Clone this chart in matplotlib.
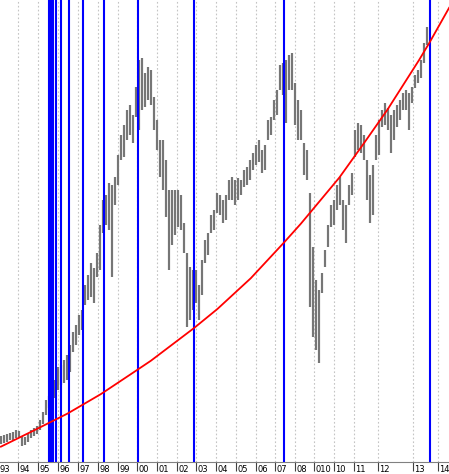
import matplotlib
matplotlib.use('Agg')
import matplotlib.pyplot as plt
import numpy as np

# bar highs / lows (index level) left to right, 1993 -> mid 2013
bar_high = [447, 450, 453, 456, 459, 465, 462, 447, 444, 453, 465, 471, 477, 494, 518, 553, 565, 576, 611, 650,
            655, 670, 685, 714, 752, 773, 802, 817, 890, 919, 955, 940, 984, 1066, 1139, 1154, 1189, 1183, 1207, 1271,
            1330, 1359, 1403, 1418, 1389, 1471, 1550, 1556, 1512, 1530, 1521, 1441, 1374, 1315, 1315, 1257, 1169, 1169, 1169, 1169,
            1154, 1072, 984, 943, 934, 934, 890, 963, 1022, 1043, 1095, 1110, 1160, 1154, 1139, 1154, 1198, 1207, 1198, 1204,
            1198, 1227, 1236, 1257, 1277, 1301, 1315, 1286, 1301, 1374, 1383, 1433, 1462, 1535, 1541, 1550, 1565, 1571, 1483, 1433,
            1403, 1307, 1286, 1160, 1002, 905, 875, 925, 993, 1066, 1125, 1139, 1183, 1207, 1139, 1125, 1183, 1218, 1345, 1365,
            1359, 1330, 1257, 1213, 1242, 1330, 1374, 1403, 1424, 1409, 1389, 1403, 1418, 1433, 1453, 1462, 1453, 1471, 1506, 1521,
            1550, 1600, 1647]
bar_low = [424, 427, 430, 436, 436, 441, 444, 418, 421, 430, 441, 447, 453, 465, 482, 509, 529, 538, 559, 582,
           597, 603, 611, 635, 694, 714, 743, 758, 831, 846, 855, 837, 914, 934, 1043, 1066, 1051, 914, 1125, 1183,
           1257, 1266, 1315, 1330, 1307, 1383, 1345, 1403, 1412, 1433, 1418, 1345, 1286, 1207, 1169, 1090, 934, 1007, 1037, 1060,
           1051, 984, 767, 787, 817, 837, 787, 861, 955, 978, 1043, 1051, 1101, 1095, 1072, 1081, 1139, 1139, 1125, 1139,
           1154, 1178, 1183, 1198, 1227, 1242, 1251, 1219, 1227, 1315, 1330, 1374, 1389, 1462, 1447, 1365, 1462, 1462, 1359, 1315,
           1315, 1213, 1198, 826, 738, 699, 661, 867, 943, 1002, 1060, 1066, 1110, 1125, 1051, 1013, 1125, 1154, 1266, 1286,
           1277, 1257, 1139, 1072, 1095, 1257, 1271, 1353, 1359, 1345, 1277, 1315, 1353, 1374, 1403, 1403, 1345, 1424, 1468, 1483,
           1497, 1541, 1594]

# red trend curve (bar index, level)
trend_x = [0, 11.1, 22.2, 33.3, 44.4, 50, 64.4, 72.2, 83.3, 94.4, 100, 112.8, 121.1, 128.9, 139.4, 142.8, 149.4]
trend_y = [416, 464, 513, 570, 635, 668, 764, 820, 910, 1015, 1070, 1205, 1307, 1405, 1550, 1600, 1703]

# blue event lines (bar index)
events = [16.0, 16.57, 17.23, 18.33, 20.0, 22.77, 27.23, 34.23, 45.77, 64.43, 94.43, 143.17]

# year ticks
year_labels = ['94', '95', '96', '97', '98', '99', '00', '01', '02', '03', '04',
               '05', '06', '07', '08', '010', '10', '11', '12', '13', '14']
year_ticks = [5.77, 12.33, 19, 25.67, 32.33, 39, 45.33, 52, 58.67, 65, 71.67,
              78.33, 85, 91.33, 98, 104.33, 111, 117.67, 125.67, 137.33, 145.67]

fig = plt.figure(figsize=(4.49, 4.74), dpi=100)
ax = fig.add_axes([0, 12/474, 1, 462/474])

x = np.arange(len(bar_high))
ax.vlines(x, bar_low, bar_high, color='#8a8a8a', lw=1.6, zorder=2)
ax.vlines(x, bar_low, bar_high, color='#3a3a3a', lw=0.35, zorder=2)

for e in events:
    ax.axvline(e, color='#0000ff', lw=1.5, zorder=3)

ax.plot(trend_x, trend_y, color='#ff0000', lw=1.3, zorder=4)

ax.set_xlim(-0.3, 149.37)
ax.set_ylim(371, 1726)

ax.set_xticks(year_ticks)
ax.grid(axis='x', color='#c4c4c4', ls=(0, (1.5, 2)), lw=0.8)
ax.set_axisbelow(True)
ax.tick_params(axis='x', direction='out', length=6.5, width=0.8, color='#404040', labelbottom=False)
ax.set_yticks([])

for s in ['top', 'left', 'right']:
    ax.spines[s].set_visible(False)
ax.spines['bottom'].set_color('#808080')
ax.spines['bottom'].set_linewidth(0.8)

# labels sit to the right of each tick
for pos, lab in zip(year_ticks, year_labels):
    ax.annotate(lab, xy=(pos, 0), xycoords=('data', 'axes fraction'), xytext=(0.9, -2),
                textcoords='offset points', ha='left', va='top', fontsize=6, family='DejaVu Sans',
                annotation_clip=False)
ax.annotate('93', xy=(0, 0), xycoords='axes fraction', xytext=(-0.5, -2), textcoords='offset points',
            ha='left', va='top', fontsize=6, family='DejaVu Sans', annotation_clip=False)

plt.savefig('out.png', dpi=100)
